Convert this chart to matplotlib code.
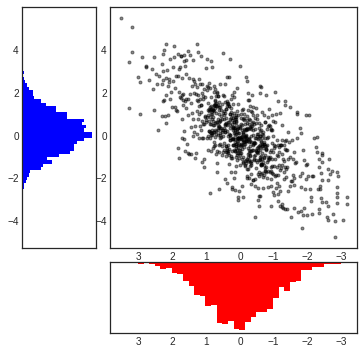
import numpy as np
import matplotlib
matplotlib.use("Agg")
import matplotlib.pyplot as plt

plt.style.use("seaborn-v0_8-white")

# ---- scatter points (hundredths of a unit), read/ ----
core_x = [
    3,-12,27,-41,8,-25,44,-6,19,-33,36,-17,11,-48,22,-2,31,-29,47,-9,15,-38,5,-21,40,-14,26,-45,13,-31,35,-4,18,-27,42,-19,9,-36,55,-62,71,-58,83,-77,66,-91,59,-69,95,-54,74,-86,61,-73,88,-52,79,-65,57,-98,68,-81,92,-60,76,-70,85,-95,112,-118,127,-105,139,-131,108,-143,121,-114,134,-126,146,-109,117,-137,103,-122,158,-163,171,-184,192,-155,176,-197,167,-214,226,-238,209,-262,
    7,-8,31,-37,12,-21,48,-2,23,-29,40,-13,15,-44,26,2,35,-25,51,-5,19,-34,9,-17,44,-10,30,-41,17,-27,39,0,22,-23,46,-15,13,-32,59,-58,75,-54,87,-73,70,-87,63,-65,99,-50,78,-82,65,-69,92,-48,83,-61,61,-94,72,-77,96,-56,80,-66,89,-91,116,-114,131,-101,143,-127,112,-139,125,-110,138,-122,150,-105,121,-133,107,-118,162,-159,175,-180,196,-151,180,-193,171,-210,230,-234,213,-258,
    0,-15,24,-44,5,-28,41,-9,16,-36,33,-20,8,-51,19,-5,28,-32,44,-12,12,-41,2,-24,37,-17,23,-48,10,-34,32,-7,15,-30,39,-22,6,-39,52,-65,68,-61,80,-80,63,-94,56,-72,92,-57,71,-89,58,-76,85,-55,76,-68,54,-101,65,-84,89,-63,73,-73,82,-98,109,-121,124,-108,136,-134,105,-146,118,-117,131,-129,143,-112,114,-140,100,-125,155,-166,168,-187,189,-158,173,-200,164,-217,223,-241,206,-265,
    10,-5,34,-34,15,-18,51,1,26,-26,43,-10,18,-41,29,5,38,-22,54,-2,22,-31,12,-14,47,-7,33,-38,20,-24,42,3,25,-20,49,-12,16,-29,62,-55,78,-51,90,-70,73,-84,66,-62,102,-47,81,-79,68,-66,95,-45,86,-58,64,-91,75,-74,99,-53,83,-63,92,-88,119,-111,134,-98,146,-124,115,-136,128,-107,141,-119,153,-102,124,-130,110,-115,165,-156,178,-177,199,-148,183,-190,174,-207,233,-231,216,-255,
    -3,-18,21,-47,2,-31,38,-12,13,-39,30,-23,5,-54,16,-8,25,-35,41,-15,9,-44,-1,-27,34,-20,20,-51,7,-37,29,-10,12,-33,36,-25,3,-42,49,-68,65,-64,77,-83,60,-97,53,-75,89,-60,68,-92,55,-79,82,-58,73,-71,51,-104,62,-87,86,-66,70,-76,79,-101,106,-124,121,-111,133,-137,102,-149,115,-120,128,-132,140,-115,111,-143,97,-128,152,-169,165,-190,186,-161,170,-203,161,-220,220,-244,203,-268,
    5,-10,29,-39,10,-23,46,-4,21,-31,38,-15,13,-46,24,0,33,-27,49,-7,17,-36,7,-19,42,-12,28,-43,15,-29,37,-2,20,-25,44,-17,11,-34,57,-60,73,-56,85,-75,68,-89,61,-67,97,-52,76,-84,63,-71,90,-50,81,-63,59,-96,70,-79,94,-58,78,-68,87,-93,114,-116,129,-103,141,-129,110,-141,123,-112,136,-124,148,-107,119,-135,105,-120,160,-161,173,-182,194,-153,178,-195,169,-212,228,-236,211,-260,
    2,-13,26,-42,7,-26,43,-7,18,-34,35,-18,10,-49,21,-3,30,-30,46,-10,14,-39,4,-22,39,-15,25,-46,12,-32,34,-5,17,-28,41,-20,8,-37,54,-63,70,-59,82,-78,65,-92,58,-70,94,-55,73,-87,60,-74,87,-53,78,-66,56,-99,67,-82,91,-61,75,-71,84,-96,
    6,-9,30,-38,11,-22,47,-3,22,-30,39,-14,14,-45,25,1,34,-26,50,-6,18,-35,8,-18,43,-11,29,-42,16,-28,38,-1,21,-24,45,-16,12,-33,58,-59,74,-55,86,-74,69,-88,62,-66,98,-51,77,-83,64,-70,91,-49,82,-62,60,-95,71,-78,95,-57,79,-67,88,-92,
]
core_y = [
    -14,83,-95,-36,-90,201,17,121,13,33,-73,30,-41,128,-9,83,-10,42,-67,13,-71,133,-9,71,-222,-5,-105,-9,-56,72,-3,53,-196,-9,-76,25,-68,110,26,26,-84,-45,13,-50,4,30,11,5,-68,-14,-7,123,42,66,55,7,-58,-50,-8,69,64,31,67,23,-50,-39,12,97,67,-42,115,-50,-4,-120,54,15,100,-46,-104,-84,41,-90,26,-20,94,-43,-39,-128,76,-176,134,-21,174,-136,-17,-188,166,-235,173,-154,
    38,-125,50,-208,70,-188,117,-5,96,-73,138,-24,85,-91,131,-38,149,-60,188,-14,203,-117,223,-112,56,-98,36,-109,65,-112,48,-139,36,-157,50,-118,49,-224,136,-284,129,-81,139,-92,151,-109,158,-80,230,-76,204,-100,187,-124,247,-114,321,-135,102,-173,105,-169,98,-168,118,-174,134,-237,143,-272,193,-277,234,-336,198,-147,190,-146,198,-153,268,-110,264,-146,216,-160,325,-230,372,-239,420,-212,205,-250,188,-286,259,-361,234,-379,
    -65,-2,-238,83,-53,-17,-96,79,2,190,-62,35,-25,95,-67,0,-169,44,25,32,-102,54,-7,168,-44,1,-18,60,-81,-3,-131,50,-16,-27,-66,61,-42,64,0,-39,-170,51,18,-44,-46,-33,35,95,22,-48,65,45,4,-61,-70,37,49,-60,-89,-42,36,87,-9,-28,61,66,5,-76,-13,-42,79,101,18,-63,88,-29,45,-77,-83,-44,107,-93,-12,-66,62,51,95,-124,143,-66,120,-111,-11,-132,160,-190,92,-175,204,-107,
    115,-108,272,-70,36,-27,105,-91,169,-197,55,-32,63,-112,102,-80,164,-198,79,-49,26,-97,77,-141,184,-233,66,-43,39,-119,123,-105,188,-23,97,-38,78,-90,132,-189,233,-59,119,-105,150,-163,184,-179,316,-66,119,-121,137,-134,226,-203,348,-69,78,-146,161,-150,213,-245,124,-94,123,-171,171,-223,243,-265,152,-139,142,-195,226,-246,263,-328,170,-142,160,-204,170,-236,349,-183,180,-190,257,-236,278,-336,371,-251,242,-249,307,-312,
    -80,0,-17,-11,-260,140,-76,73,-39,27,3,-18,-12,-51,-168,126,-70,44,-50,27,-12,-33,-13,165,-92,92,-45,8,-12,3,-19,17,-143,113,-82,32,-66,-33,35,-46,24,112,-32,44,-38,-2,17,-49,87,-52,-129,25,-50,-11,28,-3,28,-40,26,63,-75,52,5,8,8,-63,50,-57,-108,-21,-10,-19,47,-66,71,-102,109,106,6,-24,80,-54,53,-108,88,-109,-86,-11,22,-114,113,-78,166,-188,128,-11,57,-123,133,-180,
    11,-19,99,-206,31,-84,155,-40,83,-143,276,-41,65,-149,72,-83,138,-30,80,-64,180,-67,98,-127,83,-30,109,-235,24,-124,151,-46,39,-101,241,-22,97,-180,90,-115,168,-282,99,-163,205,-100,119,-194,359,-65,141,-242,65,-137,221,-77,85,-131,243,-143,139,-200,119,-100,138,-244,125,-167,240,-135,165,-188,355,-169,183,-258,140,-183,254,-333,193,-186,241,-157,182,-259,172,-196,271,-353,223,-212,321,-203,196,-304,383,-251,265,-394,
    10,-51,81,-94,146,-67,58,-43,106,-139,62,-27,19,-122,148,-15,77,-49,107,-128,17,-68,46,-108,151,-137,56,-73,86,-127,137,-7,35,-82,126,-157,30,-41,149,-133,187,-107,117,-147,141,-201,69,-101,153,-115,219,-104,73,-165,179,-179,114,-111,122,-180,201,-115,117,-138,143,-185,103,-110,
    -27,9,-22,96,9,33,-34,100,-16,36,-56,-6,-31,29,-106,37,7,53,-76,25,-44,57,-114,-13,-48,101,4,-29,-70,80,21,41,-44,122,16,55,-48,-30,37,0,-44,-11,55,-13,-74,-77,43,-9,-11,-4,19,-7,52,-30,22,78,76,-27,-13,26,23,-69,-3,60,70,16,18,-65,
]
outer_x = [
    353,320,219,129,320,225,290,254,329,207,195,183,154,124,166,148,117,159,278,231,
    50,29,302,296,329,296,254,231,213,280,257,243,0,-17,-22,-60,-61,-60,-78,-105,
    -114,-132,-132,-149,-168,-170,-197,-206,-178,-182,183,180,163,154,146,112,108,90,61,45,
    25,15,5,5,-8,-45,-54,-57,-91,-114,-124,-132,-139,-152,-159,-173,-183,-188,-200,-215,
    -233,-240,-243,-260,-275,-283,-283,-307,-289,-289,-289,-317,-317,-289,-287,-272,-290,-262,-243,-228,
    -243,-243,-228,-226,-233,-233,
    250,270,260,240,230,220,200,245,230,220,160,180,210,190,
]
outer_y = [
    549,507,427,427,390,399,366,366,343,357,366,380,394,390,376,376,371,352,324,336,
    385,357,273,250,129,100,119,92,95,322,217,27,324,273,254,231,226,198,189,203,
    161,161,142,133,112,100,97,97,36,11,-59,-106,-70,-82,-86,-121,-145,-269,-250,-204,
    -250,-254,-285,-300,-288,-379,-300,-329,-329,-304,-319,-344,-344,-379,-336,-355,-433,-371,-371,-367,
    -344,-293,-308,-329,-367,-475,-399,-394,-266,-241,-288,-288,-321,-316,-168,-164,-188,-207,-207,-5,
    -79,-90,-75,-51,-110,-145,
    290,260,310,280,300,270,320,240,160,190,290,310,250,280,
]

# ---- marginal histograms: 40 bin counts each, in ascending order ----
x_hist_counts = [2,4,4,5,14,14,23,23,56,59,86,74,107,140,149,149,162,179,202,199,
                 175,184,181,128,130,100,97,71,56,34,32,17,19,10,5,3,5,1,0,1]
x_hist_range = (-3.15, 3.53)
y_hist_counts = [2,3,3,6,6,12,14,20,23,55,61,88,72,109,142,152,154,163,184,207,
                 205,182,190,178,183,131,133,100,99,70,55,35,33,32,19,14,9,6,2,4]
y_hist_range = (-2.96, 3.04)

xticks = [3, 2, 1, 0, -1, -2, -3]
yticks = [-4, -2, 0, 2, 4]

W, H = 364, 354
fig = plt.figure(figsize=(W / 72, H / 72), dpi=72)

def rect(l, t, r, b):
    return [l / W, 1 - b / H, (r - l) / W, (b - t) / H]

main_ax = fig.add_axes(rect(110.3, 7, 357.3, 248))
y_hist = fig.add_axes(rect(22.3, 7, 95.7, 248), sharey=main_ax)
x_hist = fig.add_axes(rect(110.3, 262.3, 357.3, 333.3), sharex=main_ax)

px = np.array(core_x + outer_x) / 100.0
py = np.array(core_y + outer_y) / 100.0
main_ax.plot(px, py, "ok", markersize=3, alpha=0.45)

xe = np.linspace(x_hist_range[0], x_hist_range[1], len(x_hist_counts) + 1)
x_hist.stairs(x_hist_counts, xe, fill=True, color="red", linewidth=0)
ye = np.linspace(y_hist_range[0], y_hist_range[1], len(y_hist_counts) + 1)
y_hist.stairs(y_hist_counts, ye, fill=True, color="blue", orientation="horizontal", linewidth=0)

main_ax.set_xlim(3.85, -3.48)
main_ax.set_ylim(-5.25, 6.01)
main_ax.set_xticks(xticks)
main_ax.set_yticks(yticks)

x_hist.set_ylim(max(x_hist_counts) * 1.05, 0)
y_hist.set_xlim(0, max(y_hist_counts) * 1.05)
x_hist.tick_params(axis="y", labelleft=False)
y_hist.tick_params(axis="x", labelbottom=False)
x_hist.set_yticks([0, 50, 100, 150, 200])
y_hist.set_xticks([0, 50, 100, 150, 200])

fig.savefig("out.png", dpi=72)
